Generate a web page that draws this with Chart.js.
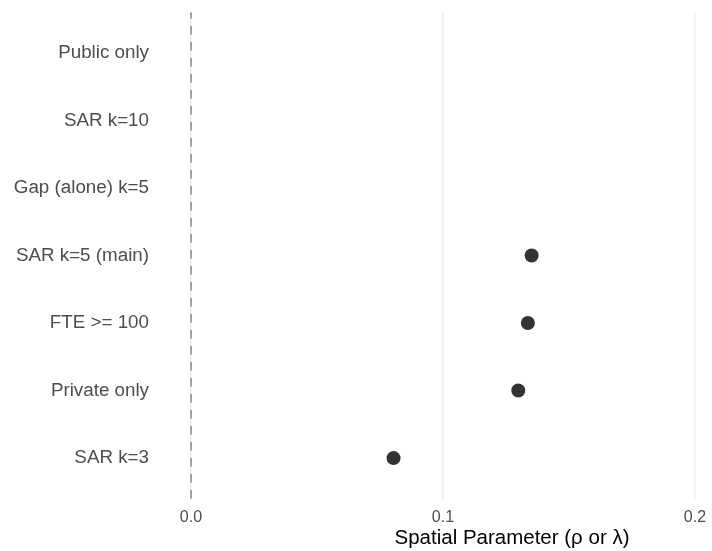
<!DOCTYPE html>
<html>
<head>
<meta charset="utf-8">
<script src="https://cdn.jsdelivr.net/npm/chart.js@4"></script>
<style>
  html, body { margin: 0; padding: 0; background: #fff; }
  #wrap { width: 712px; height: 551px; }
</style>
</head>
<body>
<div id="wrap"><canvas id="myChart" width="712" height="551"></canvas></div>
<script>
// models, top to bottom
const models = [
  "Public only",
  "SAR k=10",
  "Gap (alone) k=5",
  "SAR k=5 (main)",
  "FTE >= 100",
  "Private only",
  "SAR k=3",
];
// spatial parameter estimate (rho or lambda), null = not shown
const spatialParam = [null, null, null, 0.1352, 0.1337, 0.1299, 0.0804];
const xTicks = [0.0, 0.1, 0.2];
const xTickLabels = ["0.0", "0.1", "0.2"];
const xTitle = "Spatial Parameter (\u03c1 or \u03bb)";

const FONT = "'Liberation Sans', Arial, Helvetica, sans-serif";

// dashed reference line at zero + axis title
const zeroLine = {
  id: "zeroLine",
  beforeDatasetsDraw(chart) {
    const ctx = chart.ctx;
    const a = chart.chartArea;
    const x = chart.scales.x.getPixelForValue(0);
    ctx.save();
    ctx.strokeStyle = "#9a9a9a";
    ctx.lineWidth = 1.8;
    ctx.setLineDash([8.5, 7.5]);
    ctx.beginPath();
    ctx.moveTo(x, a.bottom);
    ctx.lineTo(x, a.top);
    ctx.stroke();
    ctx.restore();
  },
  afterDraw(chart) {
    const ctx = chart.ctx;
    ctx.save();
    ctx.fillStyle = "#000";
    ctx.font = "20.5px " + FONT;
    ctx.textAlign = "center";
    ctx.textBaseline = "middle";
    ctx.fillText(xTitle, 512, 538);
    ctx.restore();
  },
};

let ctx = document.getElementById("myChart").getContext("2d");
let myChart = new Chart(ctx, {
  type: "scatter",
  data: {
    datasets: [
      {
        data: spatialParam.map((v, i) => ({ x: v, y: i })),
        backgroundColor: "#333333",
        borderColor: "#333333",
        borderWidth: 0,
        pointRadius: 7,
      },
    ],
  },
  options: {
    responsive: false,
    animation: false,
    layout: { padding: { top: 12.4, right: 3, left: 0, bottom: 0 } },
    plugins: {
      legend: { display: false },
      tooltip: { enabled: false },
    },
    scales: {
      x: {
        type: "linear",
        min: -0.0103,
        max: 0.204,
        afterBuildTicks: (s) => {
          s.ticks = xTicks.map((v) => ({ value: v }));
        },
        afterFit: (s) => {
          s.height = 52.4;
          s.paddingLeft = 0;
          s.paddingRight = 0;
        },
        ticks: {
          callback: (v) => xTickLabels[xTicks.indexOf(v)],
          color: "#4d4d4d",
          font: { family: FONT, size: 16 },
          padding: 9,
          maxRotation: 0,
        },
        grid: { color: "#ebebeb", lineWidth: 1.5, drawTicks: false },
        border: { display: false },
      },
      y: {
        type: "linear",
        reverse: true,
        min: -0.6,
        max: models.length - 0.4,
        afterBuildTicks: (s) => {
          s.ticks = models.map((m, i) => ({ value: i }));
        },
        afterFit: (s) => {
          s.width = 165;
          s.paddingTop = 0;
          s.paddingBottom = 0;
        },
        ticks: {
          callback: (v) => models[v],
          color: "#4d4d4d",
          font: { family: FONT, size: 18.8 },
          padding: 16,
        },
        grid: { display: false, drawTicks: false },
        border: { display: false },
      },
    },
  },
  plugins: [zeroLine],
});
</script>
</body>
</html>
